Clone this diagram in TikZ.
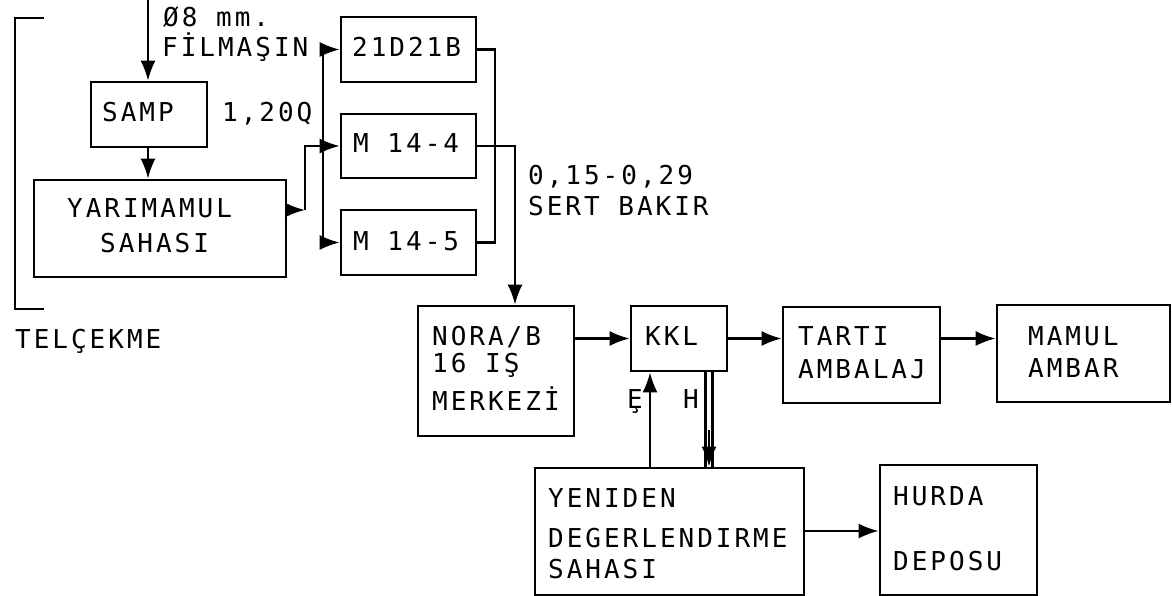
\documentclass[tikz,border=0pt]{standalone}
\usepackage{fontspec}
\newfontfamily\mono[LetterSpace=11.5]{DejaVu Sans Mono}
\usetikzlibrary{arrows.meta}
\begin{document}
\begin{tikzpicture}[x=1pt,y=-1pt,
  box/.style={draw, line width=2.6pt, inner sep=0pt},
  lbl/.style={anchor=base west, inner sep=0pt, font=\mono\fontsize{26}{30}\selectfont},
  conn/.style={line width=2.4pt},
  arr/.style={conn, -{Latex[length=20pt,width=15pt]}}]
\useasboundingbox (0,0) rectangle (1172,596);

% boxes
\node[box, minimum width=116pt, minimum height=65pt] (samp) at (149,114.5) {};
\node[box, minimum width=252pt, minimum height=97pt] (yari) at (160,228.5) {};
\node[box, minimum width=135pt, minimum height=65pt] (b21) at (408.5,49.5) {};
\node[box, minimum width=135pt, minimum height=64pt] (m144) at (408.5,146) {};
\node[box, minimum width=135pt, minimum height=65pt] (m145) at (408.5,242.5) {};
\node[box, minimum width=156pt, minimum height=130pt] (nora) at (496,371) {};
\node[box, minimum width=96pt, minimum height=65pt] (kkl) at (679,338.5) {};
\node[box, minimum width=157pt, minimum height=96pt] (tarti) at (861.5,355) {};
\node[box, minimum width=173pt, minimum height=97pt] (mamul) at (1083.5,353.5) {};
\node[box, minimum width=269pt, minimum height=127pt] (yeni) at (669.5,531.5) {};
\node[box, minimum width=157pt, minimum height=130pt] (hurda) at (958.5,530) {};

% texts
\node[lbl] (t1) at (163,27) {Ø8 mm.};
\node[lbl] (t2) at (162,57) {FİLMAŞIN};
\node[lbl] (t3) at (102,122) {SAMP};
\node[lbl] (t4) at (222,122) {1,20Q};
\node[lbl] (t5) at (67,218) {YARIMAMUL};
\node[lbl] (t6) at (100,252) {SAHASI};
\node[lbl] (t7) at (352,57) {21D21B};
\node[lbl] (t8) at (353,153) {M 14-4};
\node[lbl] (t9) at (353,250) {M 14-5};
\node[lbl] (t10) at (528,185) {0,15-0,29};
\node[lbl] (t11) at (528,215) {SERT BAKIR};
\node[lbl] (t12) at (15,348) {TELÇEKME};
\node[lbl] (t13) at (432,345) {NORA/B};
\node[lbl] (t14) at (432,372) {16 IŞ};
\node[lbl] (t15) at (432,410) {MERKEZİ};
\node[lbl] (t16) at (645,345) {KKL};
\node[lbl] (t17) at (627,408) {Ȩ};
\node[lbl] (t18) at (683,408) {H};
\node[lbl] (t19) at (548,507) {YENIDEN};
\node[lbl] (t20) at (548,547) {DEGERLENDIRME};
\node[lbl] (t21) at (548,578) {SAHASI};
\node[lbl] (t22) at (798,345) {TARTI};
\node[lbl] (t23) at (798,378) {AMBALAJ};
\node[lbl] (t24) at (1028,345) {MAMUL};
\node[lbl] (t25) at (1028,377) {AMBAR};
\node[lbl] (t26) at (893,505) {HURDA};
\node[lbl] (t27) at (893,570) {DEPOSU};

% bracket
\draw[conn] (44,18) -- (15,18) -- (15,309) -- (44,309);

% connectors
\coordinate (in) at (148,0);
\draw[arr] (in) -- (in |- samp.north);
\draw[arr] (samp.south -| in) -- (yari.north -| in);
\coordinate (yj) at (305,210);
\draw[arr] (yari.east |- yj) -- (yj);
\draw[arr] (yj) |- (m144.west);
\coordinate (fj) at (323,49.5);
\draw[arr] (fj) -- (b21.west);
\draw[arr] (fj) |- (m145.west);
\coordinate (rj) at (495,49.5);
\draw[conn] (b21.east) -- (rj) |- (m145.east);
\coordinate (sj) at (515,146);
\draw[arr] (m144.east) -- (sj) -- (sj |- nora.north);
\draw[arr] (nora.east |- kkl.west) -- (kkl.west);
\draw[arr] (kkl.east) -- (kkl.east -| tarti.west);
\draw[arr] (tarti.east |- kkl.east) -- (mamul.west |- kkl.east);
\coordinate (ex) at (650,0);
\draw[arr] (yeni.north -| ex) -- (kkl.south -| ex);
\coordinate (h1) at (705.5,0);
\coordinate (h2) at (712.5,0);
\coordinate (hx) at (709,430);
\draw[conn] (kkl.south -| h1) -- (yeni.north -| h1);
\draw[conn] (kkl.south -| h2) -- (yeni.north -| h2);
\draw[arr] (hx) -- (yeni.north -| hx);
\draw[arr] (yeni.east |- 0,531) -- (hurda.west |- 0,531);
\end{tikzpicture}
\end{document}
